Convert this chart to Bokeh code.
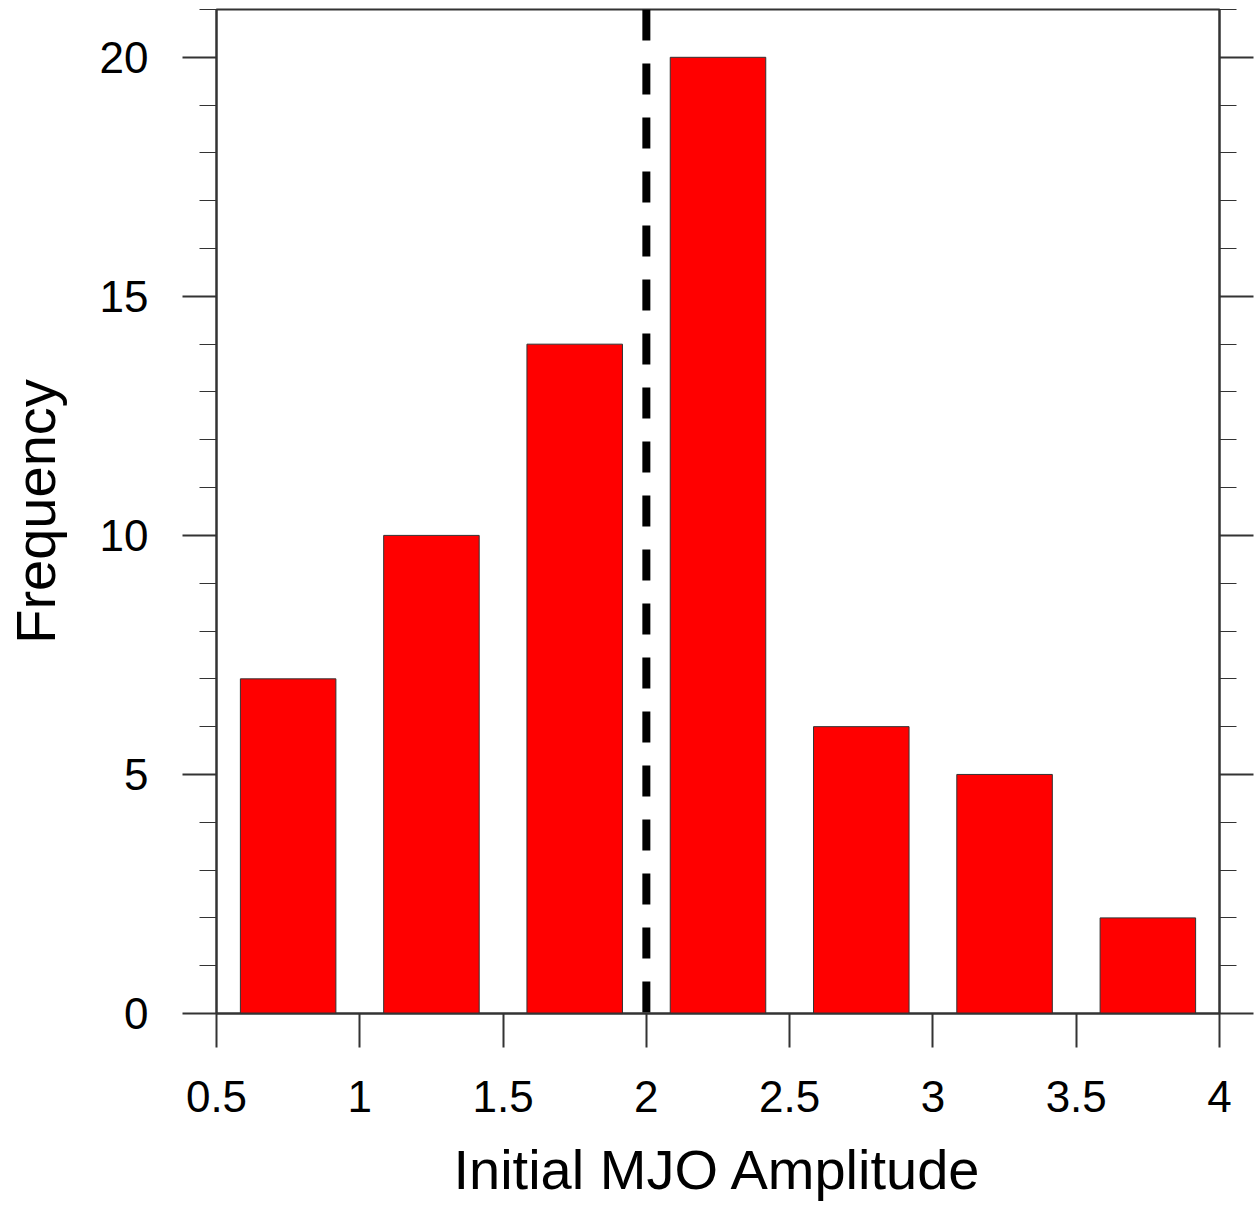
from bokeh.plotting import figure
from bokeh.models import LinearAxis, SingleIntervalTicker, FixedTicker, Range1d, ColumnDataSource, CustomJSTickFormatter
from bokeh.embed import file_html
from bokeh.resources import INLINE

# Data
bin_centers = [0.75, 1.25, 1.75, 2.25, 2.75, 3.25, 3.75]
frequency = [7, 10, 14, 20, 6, 5, 2]
bar_width = 1.0 / 3.0
ref_amplitude = 2.0
x_ticks = [0.5, 1, 1.5, 2, 2.5, 3, 3.5, 4]
x_tick_labels = {0.5: "0.5", 1: "1", 1.5: "1.5", 2: "2", 2.5: "2.5", 3: "3", 3.5: "3.5", 4: "4"}

FONT = "Liberation Sans"
AX = "#333333"

p = figure(width=1254, height=1205, output_backend="svg", toolbar_location=None,
           x_range=Range1d(0.5, 4), y_range=Range1d(0, 21),
           min_border_left=216, min_border_right=35, min_border_top=9, min_border_bottom=192,
           x_axis_label="Initial MJO Amplitude", y_axis_label="Frequency")
p.grid.visible = False
p.outline_line_color = AX
p.outline_line_width = 2
p.background_fill_color = "white"
p.border_fill_color = "white"

src = ColumnDataSource(dict(x=bin_centers, top=frequency))
p.vbar(x="x", top="top", bottom=0, width=bar_width, source=src,
       fill_color="#ff0000", line_color="#333333", line_width=1)

dsrc = ColumnDataSource(dict(x0=[ref_amplitude], y0=[21], x1=[ref_amplitude], y1=[0]))
p.segment(x0="x0", y0="y0", x1="x1", y1="y1", source=dsrc,
          line_color="black", line_width=8, line_dash="31 23")

# x axis
xa = p.xaxis[0]
xa.ticker = FixedTicker(ticks=x_ticks)
xa.major_label_overrides = x_tick_labels
xa.major_tick_out = 34
xa.major_tick_in = 0
xa.minor_tick_out = 0
xa.minor_tick_in = 0
xa.major_tick_line_width = 2
xa.major_tick_line_color = AX
xa.axis_line_width = 2
xa.axis_line_color = AX
xa.major_label_text_font = FONT
xa.major_label_text_font_size = "44px"
xa.major_label_text_color = "black"
xa.major_label_standoff = 33
xa.axis_label_text_font = FONT
xa.axis_label_text_font_size = "56px"
xa.axis_label_text_font_style = "normal"
xa.axis_label_text_color = "black"
xa.axis_label_standoff = 23

# y axis
ya = p.yaxis[0]
ya.ticker = SingleIntervalTicker(interval=5, num_minor_ticks=5)
ya.major_tick_out = 34
ya.major_tick_in = 0
ya.minor_tick_out = 17
ya.minor_tick_in = 0
ya.major_tick_line_width = 2
ya.major_tick_line_color = AX
ya.minor_tick_line_width = 1
ya.minor_tick_line_color = AX
ya.axis_line_width = 2
ya.axis_line_color = AX
ya.major_label_text_font = FONT
ya.major_label_text_font_size = "44px"
ya.major_label_text_color = "black"
ya.major_label_standoff = 34
ya.axis_label_text_font = FONT
ya.axis_label_text_font_size = "56px"
ya.axis_label_text_font_style = "normal"
ya.axis_label_text_color = "black"
ya.axis_label_standoff = 30

# right axis (ticks only)
ra = LinearAxis(ticker=SingleIntervalTicker(interval=5, num_minor_ticks=5),
                formatter=CustomJSTickFormatter(code="return ''"))
ra.major_tick_out = 34
ra.major_tick_in = 0
ra.minor_tick_out = 17
ra.minor_tick_in = 0
ra.major_tick_line_width = 2
ra.major_tick_line_color = AX
ra.minor_tick_line_width = 1
ra.minor_tick_line_color = AX
ra.axis_line_width = 2
ra.axis_line_color = AX
ra.major_label_standoff = 0
p.add_layout(ra, "right")

open("out.html", "w").write(file_html(p, INLINE))
